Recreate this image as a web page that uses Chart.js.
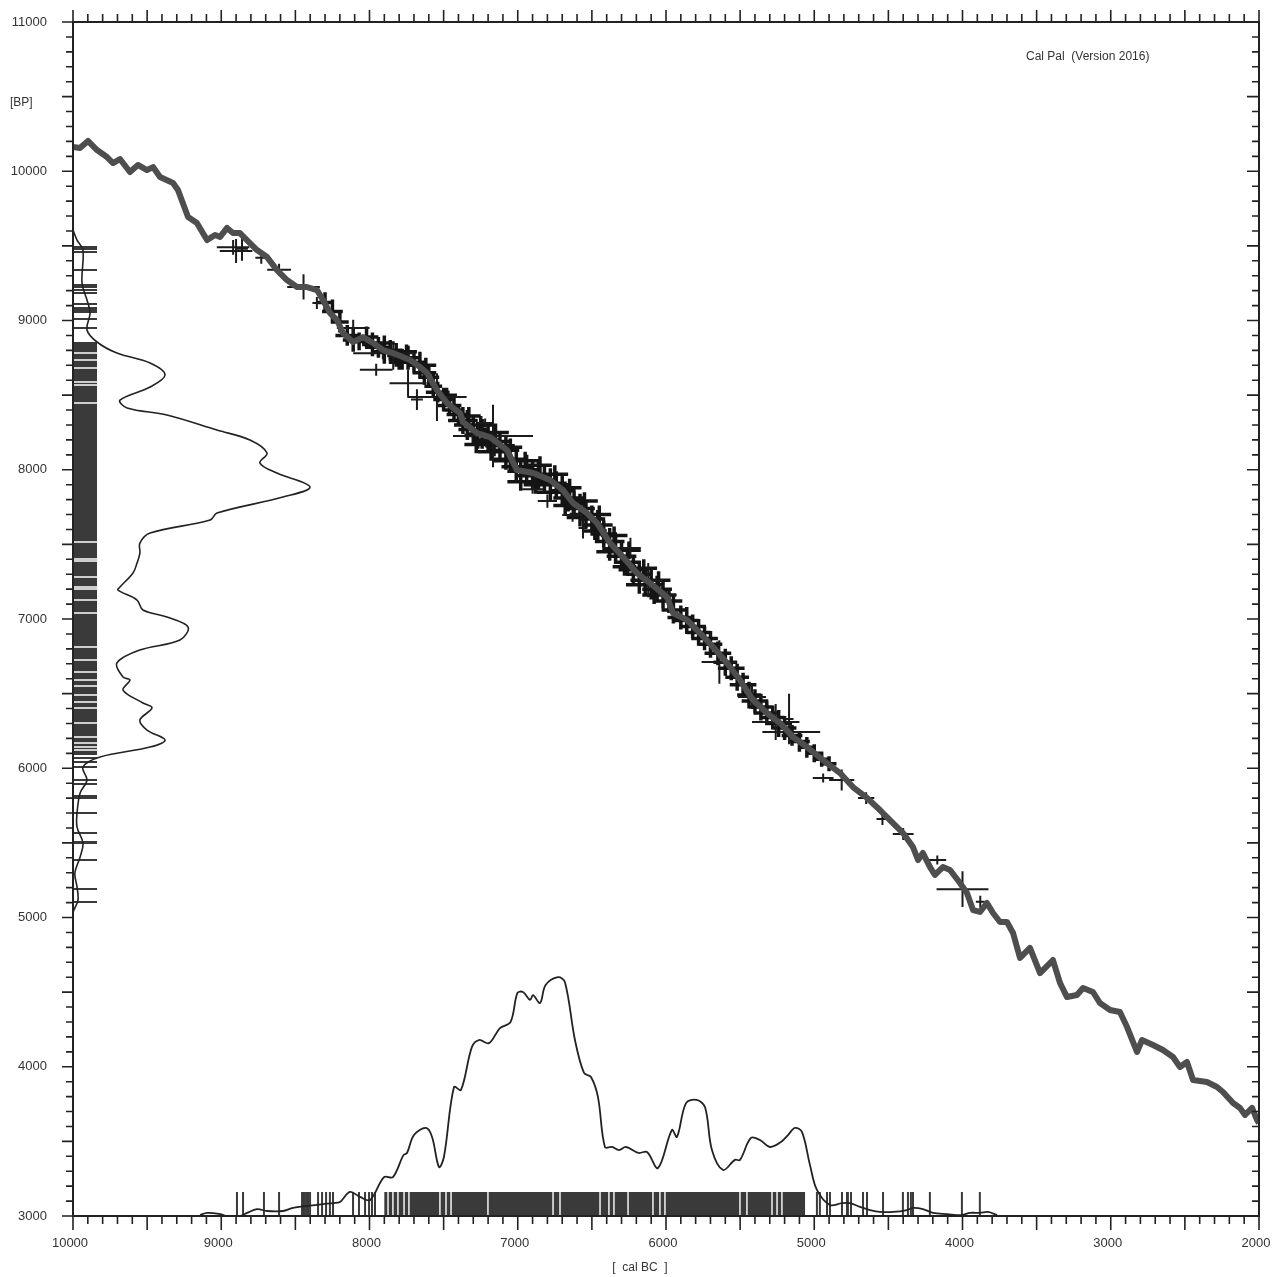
<!DOCTYPE html>
<html>
<head>
<meta charset="utf-8">
<title>CalPal</title>
<script src="https://cdn.jsdelivr.net/npm/chart.js@4.4.0/dist/chart.umd.min.js"></script>
<style>
  html, body { margin: 0; padding: 0; background: #fff; }
  #wrap { width: 1282px; height: 1277px; }
</style>
</head>
<body>
<div id="wrap"><canvas id="calpal" width="1282" height="1277"></canvas></div>
<script>
// calibration curve: cal BC -> 14C BP
const curveBC = [10000, 9953, 9899, 9838, 9771, 9730, 9683, 9616, 9562, 9501, 9460, 9413, 9325, 9292, 9224, 9164, 9096, 9042, 9008, 8961,
  8921, 8874, 8827, 8759, 8691, 8624, 8557, 8489, 8422, 8354, 8314, 8266, 8219, 8179, 8111, 8044, 7976, 7909, 7841, 7727,
  7659, 7612, 7545, 7477, 7390, 7369, 7275, 7187, 7072, 7005, 6897, 6782, 6695, 6627, 6533, 6465, 6377, 6290, 6196, 6108,
  5993, 5953, 5858, 5771, 5683, 5589, 5501, 5413, 5319, 5231, 5143, 5049, 4941, 4826, 4739, 4644, 4557, 4469, 4401, 4334,
  4300, 4267, 4219, 4186, 4132, 4084, 4017, 3970, 3929, 3882, 3835, 3794, 3747, 3700, 3659, 3612, 3545, 3477, 3390, 3342,
  3295, 3228, 3187, 3120, 3073, 3005, 2938, 2890, 2823, 2789, 2715, 2648, 2580, 2533, 2486, 2445, 2351, 2283, 2243, 2175,
  2128, 2094, 2047, 2013, 2000];
const curveBP = [10162, 10156, 10203, 10142, 10095, 10055, 10082, 9995, 10042, 10008, 10028, 9961, 9921, 9874, 9693, 9653, 9539, 9573, 9560, 9620,
  9586, 9586, 9539, 9472, 9425, 9338, 9271, 9224, 9224, 9204, 9137, 9050, 9003, 8916, 8856, 8889, 8849, 8802, 8782, 8735,
  8688, 8648, 8534, 8447, 8380, 8320, 8246, 8219, 8132, 7998, 7978, 7931, 7864, 7777, 7710, 7643, 7509, 7415, 7308, 7241,
  7147, 7040, 6993, 6906, 6812, 6705, 6591, 6457, 6370, 6303, 6209, 6142, 6055, 5968, 5874, 5801, 5720, 5633, 5566, 5472,
  5385, 5432, 5338, 5285, 5338, 5318, 5231, 5164, 5050, 5037, 5097, 5030, 4970, 4970, 4896, 4729, 4796, 4628, 4715, 4561,
  4467, 4481, 4528, 4501, 4427, 4380, 4367, 4266, 4099, 4179, 4146, 4112, 4065, 3998, 4032, 3911, 3898, 3864, 3831, 3757,
  3724, 3677, 3724, 3643, 3623];

// dated samples [cal BC, BP, cal error, BP error]
const samples = [
  [8920, 9490, 110, 50], [8900, 9466, 110, 80], [8860, 9480, 40, 80], [8730, 9420, 40, 40], [8610, 9340, 80, 40],
  [8445, 9225, 110, 85], [8355, 9117, 30, 40], [8110, 8950, 110, 55], [7910, 8780, 200, 40], [7955, 8670, 110, 40],
  [7840, 8760, 40, 90], [7740, 8580, 125, 90], [7545, 8487, 200, 160], [7680, 8470, 40, 70], [7167, 8226, 270, 210],
  [7220, 8313, 55, 30], [6900, 7870, 70, 30], [6800, 7790, 65, 45], [6630, 7697, 70, 45], [6505, 7677, 75, 30],
  [6560, 7610, 30, 70], [6240, 7475, 70, 70], [6120, 7260, 100, 115], [6000, 7160, 70, 30], [5640, 6712, 120, 145],
  [5420, 6477, 95, 80], [5260, 6310, 160, 120], [5170, 6330, 30, 170], [5155, 6243, 195, 30], [4940, 5935, 70, 30],
  [4815, 5921, 85, 70], [4650, 5800, 55, 40], [4540, 5660, 40, 40], [4400, 5560, 70, 40], [4170, 5385, 60, 30],
  [4000, 5190, 175, 120], [3880, 5105, 30, 40]
];
// the dense cloud of small crosses along the curve
const cloudSamples = [
  [8300, 9120, 60, 70], [8250, 9060, 70, 80], [8200, 8990, 60, 70], [8150, 8900, 80, 70], [8110, 8870, 70, 80],
  [8070, 8860, 60, 60], [8020, 8890, 80, 70], [7980, 8840, 70, 80], [7940, 8820, 90, 70], [7900, 8790, 70, 80],
  [7860, 8800, 80, 70], [7820, 8770, 60, 80], [7780, 8740, 80, 70], [7740, 8750, 70, 80], [7700, 8720, 80, 70],
  [7660, 8700, 70, 90], [7630, 8650, 80, 80], [7600, 8620, 70, 70], [7570, 8560, 60, 80], [7540, 8520, 80, 70],
  [7500, 8470, 70, 80], [7460, 8430, 80, 70], [7430, 8400, 70, 80], [7400, 8370, 80, 70],
  [7370, 8330, 100, 90], [7340, 8300, 90, 100], [7300, 8270, 100, 90], [7270, 8230, 90, 90], [7240, 8240, 100, 100],
  [7200, 8200, 90, 90], [7160, 8190, 110, 100], [7120, 8160, 100, 90], [7080, 8130, 90, 100], [7050, 8070, 110, 90],
  [7010, 8020, 100, 100], [6980, 7990, 90, 90], [6940, 8000, 100, 100], [6900, 7960, 110, 90], [6860, 7970, 100, 100],
  [6820, 7930, 90, 90], [6780, 7910, 110, 100], [6740, 7900, 100, 90], [6700, 7860, 90, 100], [6660, 7810, 100, 90],
  [6620, 7770, 90, 90], [6580, 7740, 100, 100], [6540, 7700, 110, 90], [6500, 7670, 90, 90], [6460, 7630, 100, 100],
  [6420, 7570, 90, 90], [6380, 7520, 100, 90], [6340, 7470, 90, 100], [6300, 7420, 100, 90], [6260, 7380, 90, 90],
  [6220, 7330, 100, 100], [6180, 7300, 90, 90], [6140, 7260, 100, 90], [6100, 7230, 90, 100], [6060, 7200, 100, 90],
  [6020, 7160, 90, 90],
  [5980, 7120, 90, 80], [5950, 7060, 80, 90], [5900, 7010, 90, 80], [5860, 6990, 80, 90], [5820, 6950, 90, 80],
  [5780, 6910, 80, 90], [5740, 6870, 90, 80], [5700, 6830, 80, 90], [5650, 6770, 90, 80], [5600, 6710, 80, 90],
  [5560, 6670, 90, 80], [5520, 6610, 80, 90], [5480, 6560, 90, 80], [5440, 6490, 80, 90], [5400, 6450, 90, 80],
  [5360, 6410, 80, 90], [5320, 6370, 90, 80], [5280, 6340, 80, 80], [5240, 6300, 90, 90], [5200, 6270, 80, 80],
  [5150, 6220, 70, 70], [5100, 6180, 70, 70], [5050, 6140, 60, 70], [5000, 6100, 60, 60], [4950, 6060, 50, 50],
  [4900, 6030, 50, 50],
  // off-curve members that widen the band
  [7330, 8360, 80, 60], [7250, 8300, 80, 60], [7150, 8250, 90, 60], [7050, 8150, 80, 60], [6950, 8060, 90, 60],
  [6850, 8030, 80, 60], [6750, 7970, 90, 60], [6650, 7880, 80, 60], [6550, 7790, 90, 60], [6450, 7700, 80, 60],
  [6350, 7560, 90, 60], [6250, 7460, 80, 60], [6150, 7340, 90, 60], [6050, 7260, 80, 60],
  [7280, 8170, 80, 60], [7180, 8120, 90, 60], [7080, 8060, 80, 60], [6980, 7920, 90, 60], [6880, 7900, 80, 60],
  [6780, 7850, 90, 60], [6680, 7760, 80, 60], [6580, 7680, 90, 60], [6480, 7590, 80, 60], [6380, 7450, 90, 60],
  [6280, 7350, 80, 60], [6180, 7230, 90, 60], [6080, 7160, 80, 60],
  [7900, 8850, 70, 50], [7750, 8790, 70, 50], [7620, 8700, 70, 50], [7480, 8500, 70, 50], [7800, 8720, 70, 50]
];

// summed probability along the BP axis (left)
const leftDenBP = [9606, 9539, 9472, 9251, 9137, 9050, 8936, 8856, 8782, 8715, 8635, 8554, 8467, 8414, 8367, 8266, 8199, 8112, 8045, 7978,
  7884, 7817, 7710, 7663, 7576, 7509, 7442, 7375, 7308, 7214, 7194, 7127, 7060, 7013, 6946, 6859, 6792, 6705, 6611, 6591,
  6524, 6437, 6404, 6323, 6256, 6189, 6142, 6075, 6008, 5921, 5834, 5700, 5606, 5499, 5405, 5298, 5204, 5117, 5030, 4916];
const leftDenVal = [0, 1.7, 4.2, 3.8, 5.9, 7.2, 5.9, 10.1, 18.5, 32.5, 38.8, 32.5, 19.8, 22.8, 39.6, 60.7, 74.6, 81.8, 78.8, 86.0,
  99.9, 88.5, 60.7, 57.8, 32.5, 28.2, 28.2, 27.0, 25.3, 19.8, 19.0, 27.0, 29.5, 39.6, 48.5, 45.1, 28.2, 18.5, 21.1, 24.0,
  21.1, 29.5, 33.3, 28.2, 31.2, 38.8, 32.5, 11.4, 4.2, 5.9, 3.0, 1.7, 1.7, 4.2, 3.0, 0.8, 1.7, 2.1, 0, 0];

// summed calibrated probability along the cal BC axis (bottom)
const botDenBC = [9143, 9096, 9008, 8961, 8874, 8826, 8759, 8691, 8584, 8516, 8422, 8314, 8246, 8199, 8132, 8064, 7996, 7902, 7842, 7771,
  7747, 7700, 7619, 7578, 7531, 7498, 7430, 7383, 7309, 7261, 7194, 7120, 7049, 7002, 6965, 6917, 6897, 6850, 6812, 6729,
  6682, 6614, 6553, 6506, 6459, 6412, 6364, 6317, 6270, 6185, 6128, 6054, 5960, 5926, 5865, 5794, 5737, 5690, 5616, 5535,
  5501, 5427, 5366, 5299, 5224, 5177, 5130, 5083, 5029, 4982, 4894, 4813, 4759, 4692, 4624, 4557, 4469, 4374, 4334, 4267,
  4199, 4105, 4004, 3950, 3882, 3828, 3767];
const botDenVal = [0.4, 1.3, 0.8, 0, 0, 1.3, 2.9, 2.1, 2.1, 3.4, 4.2, 5.0, 5.4, 5.9, 10.1, 8.0, 6.7, 16.3, 16.3, 25.5,
  26.4, 33.9, 36.9, 33.1, 20.5, 24.7, 54.0, 52.8, 70.8, 73.7, 72.4, 78.7, 81.2, 93.4, 93.8, 90.5, 92.5, 89.2, 96.7, 100,
  98.0, 73.7, 59.9, 58.2, 49.8, 28.9, 28.9, 27.6, 28.9, 26.4, 26.8, 20.1, 36.0, 33.1, 47.3, 48.6, 45.6, 27.6, 19.3, 23.5,
  23.5, 32.7, 31.8, 28.9, 31.0, 33.9, 36.9, 35.2, 21.4, 10.9, 4.6, 5.4, 5.4, 3.8, 2.5, 1.7, 1.7, 2.5, 3.4, 2.9,
  1.3, 0.8, 0.4, 1.3, 1.3, 1.7, 0.4];

// rug of BP values on the left
const leftRugEnd = 9838;
const leftRugLines = [9492, 9479, 9459, 9338, 9238, 9224, 9204, 9184, 9110, 9084, 9070, 9057, 9010, 8950,
  6069, 6042, 6008, 5921, 5894, 5814, 5801, 5700, 5566, 5506, 5499, 5385, 5191, 5104];
const leftRugBlocks = [[6089, 8856]];
const leftRugGaps = [8782, 8735, 8682, 8588, 8568, 8447, 7516, 7402, 7389, 7281, 7214, 7201, 7127, 7040, 6812, 6725,
  6645, 6591, 6551, 6491, 6444, 6404, 6303, 6209, 6169, 6142, 6122];

// rug of calibrated dates at the bottom
const botRugTop = 3161;
const botRugLines = [8894, 8853, 8712, 8610, 8455, 8442, 8428, 8415, 8401, 8347, 8320, 8293, 8267, 8246, 8111, 8071, 8030, 8003, 7983, 7963,
  4982, 4962, 4914, 4894, 4813, 4779, 4773, 4752, 4671, 4644, 4536, 4402, 4368, 4348, 4334, 4220, 4004, 3883];
const botRugBlocks = [[5062, 7900]];
const botRugGaps = [7875, 7842, 7808, 7767, 7734, 7525, 7484, 7450, 7201, 6762, 6715, 6445, 6385, 6351, 6256, 6088, 6041, 6007,
  5501, 5454, 5285, 5251, 5218];

// axes
const xLabels = [10000, 9000, 8000, 7000, 6000, 5000, 4000, 3000, 2000];
const yLabels = [3000, 4000, 5000, 6000, 7000, 8000, 9000, 10000, 11000];

const INK = '#222';
const RUG = '#3a3a3a';

// point pairs -> one polyline broken by nulls
function segments(pairs) {
    const out = [];
    pairs.forEach(([a, b]) => {
        out.push({ x: a[0], y: a[1] }, { x: b[0], y: b[1] }, { x: null, y: null });
    });
    return out;
}

function crosses(list) {
    const pairs = [];
    list.forEach(([c, b, ec, eb]) => {
        pairs.push([[c - ec, b], [c + ec, b]]);
        pairs.push([[c, b - eb], [c, b + eb]]);
    });
    return segments(pairs);
}

function line(data, opts) {
    return Object.assign({ data, showLine: true, pointRadius: 0, borderColor: INK, borderWidth: 1.5, spanGaps: false }, opts);
}

const datasets = [
    line(curveBC.map((x, i) => ({ x, y: curveBP[i] })), { borderColor: '#4e4e4e', borderWidth: 6, borderJoinStyle: 'round', order: 0 }),
    line(crosses(samples), { borderColor: '#1b1b1b', borderWidth: 2, order: 1 }),
    line(crosses(cloudSamples), { borderColor: '#141414', borderWidth: 3.5, order: 1 }),
    line(leftDenBP.map((b, i) => ({ x: leftDenVal[i], y: b })), { xAxisID: 'xDen', tension: 0.35, borderWidth: 1.6, order: 2 }),
    line(botDenBC.map((c, i) => ({ x: c, y: botDenVal[i] })), { yAxisID: 'yDen', tension: 0.35, borderWidth: 1.8, order: 2 }),
    line(segments(leftRugGaps.map(b => [[10000, b], [leftRugEnd, b]])), { borderColor: '#fff', borderWidth: 1.4, order: 3 }),
    line(segments(botRugGaps.map(c => [[c, 3000], [c, botRugTop]])), { borderColor: '#fff', borderWidth: 1.4, order: 3 }),
    line(segments(leftRugLines.map(b => [[10000, b], [leftRugEnd, b]])), { borderColor: RUG, borderWidth: 2, order: 4 }),
    line(segments(botRugLines.map(c => [[c, 3000], [c, botRugTop]])), { borderColor: RUG, borderWidth: 2, order: 4 }),
    // dense parts of the rugs: one stroke as wide as the rug itself
    line(segments(leftRugBlocks.map(([lo, hi]) => [[(10000 + leftRugEnd) / 2, lo], [(10000 + leftRugEnd) / 2, hi]])), {
        borderColor: RUG, order: 5,
        borderWidth: c => Math.abs(c.chart.scales.x.getPixelForValue(leftRugEnd) - c.chart.scales.x.getPixelForValue(10000)) || 24
    }),
    line(segments(botRugBlocks.map(([lo, hi]) => [[lo, (3000 + botRugTop) / 2], [hi, (3000 + botRugTop) / 2]])), {
        borderColor: RUG, order: 5,
        borderWidth: c => Math.abs(c.chart.scales.y.getPixelForValue(botRugTop) - c.chart.scales.y.getPixelForValue(3000)) || 24
    })
];

const frameAndTicks = {
    id: 'frameAndTicks',
    afterDatasetsDraw(chart) {
        const { ctx, chartArea: a, scales: { x, y } } = chart;
        ctx.save();
        ctx.strokeStyle = INK;
        ctx.lineWidth = 1.6;
        ctx.beginPath();
        for (let v = 2000; v <= 10000; v += 100) {
            const px = x.getPixelForValue(v);
            const big = v % 500 === 0;
            ctx.moveTo(px, a.bottom); ctx.lineTo(px, a.bottom + (big ? 14 : 8));
            ctx.moveTo(px, a.top); ctx.lineTo(px, a.top - (big ? 12 : 8));
        }
        for (let v = 3000; v <= 11000; v += 100) {
            const py = y.getPixelForValue(v);
            const big = v % 500 === 0;
            ctx.moveTo(a.left, py); ctx.lineTo(a.left - (big ? 11 : 7), py);
            ctx.moveTo(a.right, py); ctx.lineTo(a.right - (big ? 12 : 7), py);
        }
        ctx.stroke();
        ctx.lineWidth = 2;
        ctx.strokeRect(a.left, a.top, a.right - a.left, a.bottom - a.top);

        ctx.fillStyle = '#333';
        ctx.font = '13px "Liberation Sans", Arial, sans-serif';
        ctx.textAlign = 'center';
        ctx.textBaseline = 'middle';
        xLabels.forEach(v => ctx.fillText(String(v), x.getPixelForValue(v) - 3, a.bottom + 27));
        ctx.textAlign = 'right';
        yLabels.forEach(v => ctx.fillText(String(v), a.left - 26, y.getPixelForValue(v)));

        ctx.font = '12px "Liberation Sans", Arial, sans-serif';
        ctx.textAlign = 'left';
        ctx.fillText('[BP]', 10, 103);
        ctx.fillText('Cal Pal  (Version 2016)', 1026, 57);
        ctx.textAlign = 'center';
        ctx.fillText('[  cal BC  ]', 640, 1268);
        ctx.restore();
    }
};

new Chart(document.getElementById('calpal'), {
    type: 'scatter',
    data: { datasets },
    options: {
        responsive: false,
        animation: false,
        events: [],
        layout: { padding: { left: 73, right: 23, top: 22, bottom: 61 } },
        plugins: { legend: { display: false }, tooltip: { enabled: false } },
        scales: {
            x: { type: 'linear', display: false, min: 2000, max: 10000, reverse: true },
            y: { type: 'linear', display: false, min: 3000, max: 11000 },
            xDen: { type: 'linear', axis: 'x', display: false, min: 0, max: 500 },
            yDen: { type: 'linear', axis: 'y', display: false, min: 0, max: 500 }
        }
    },
    plugins: [frameAndTicks]
});
</script>
</body>
</html>
